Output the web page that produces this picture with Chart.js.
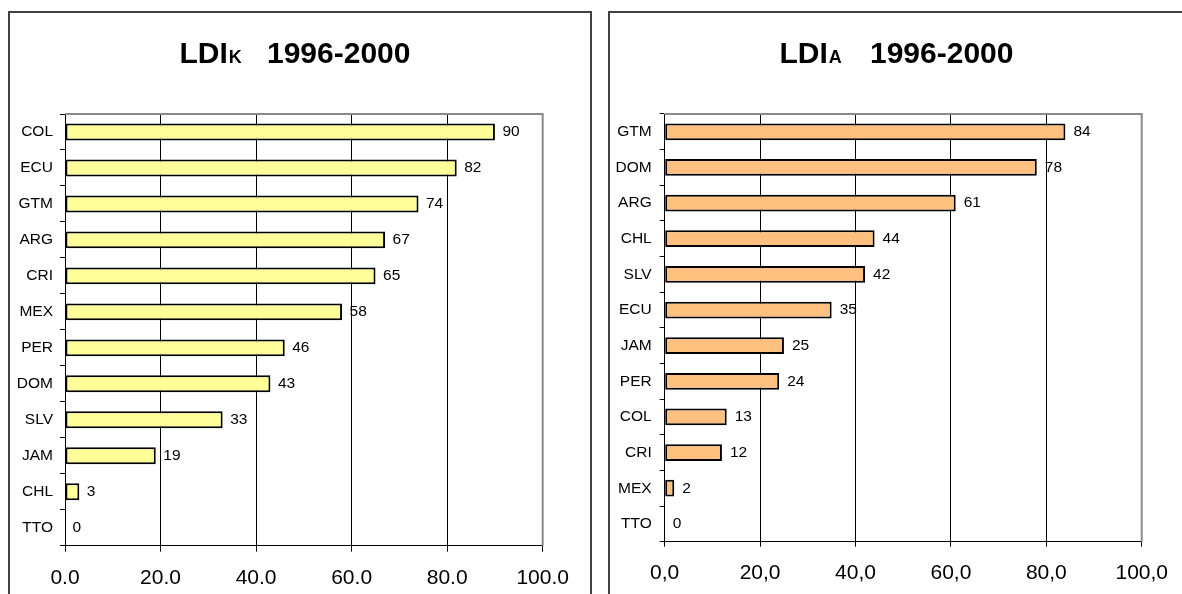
<!DOCTYPE html>
<html>
<head>
<meta charset="utf-8">
<script src="https://cdn.jsdelivr.net/npm/chart.js@4/dist/chart.umd.min.js"></script>
<style>
  html, body { margin: 0; padding: 0; background: #fff; width: 1182px; height: 594px; overflow: hidden; }
  .panel { position: absolute; box-sizing: border-box; border: 2px solid #404040; top: 11px; height: 620px; }
  canvas { position: absolute; top: 0; }
</style>
</head>
<body>
<div class="panel" style="left:8px; width:584px;"></div>
<div class="panel" style="left:608px; width:620px;"></div>
<canvas id="left" width="591" height="594" style="left:0px;"></canvas>
<canvas id="right" width="582" height="594" style="left:600px;"></canvas>
<script>
// ---- data ----
const leftCategories = ['COL','ECU','GTM','ARG','CRI','MEX','PER','DOM','SLV','JAM','CHL','TTO'];
const leftValues = [90, 82, 74, 67, 65, 58, 46, 43, 33, 19, 3, 0];
const rightCategories = ['GTM','DOM','ARG','CHL','SLV','ECU','JAM','PER','COL','CRI','MEX','TTO'];
const rightValues = [84, 78, 61, 44, 42, 35, 25, 24, 13, 12, 2, 0];
const xMin = 0, xMax = 100, xStep = 20;
const leftTitle = ['LDI', 'K', '1996-2000'];
const rightTitle = ['LDI', 'A', '1996-2000'];

const FONT = 'Arial, "Liberation Sans", sans-serif';

const titlePlugin = {
  id: 'mixedTitle',
  afterDraw(chart, args, opts) {
    const ctx = chart.ctx;
    ctx.save();
    ctx.fillStyle = '#000';
    ctx.textBaseline = 'alphabetic';
    ctx.textAlign = 'left';
    ctx.font = 'bold 30px ' + FONT;
    ctx.fillText(opts.parts[0], opts.x, opts.baseline);
    const w = ctx.measureText(opts.parts[0]).width;
    ctx.font = 'bold 18px ' + FONT;
    ctx.fillText(opts.parts[1], opts.x + w + 1, opts.baseline);
    ctx.font = 'bold 30px ' + FONT;
    ctx.fillText(opts.parts[2], opts.x + opts.yearOffset, opts.baseline);
    ctx.restore();
  }
};

const frameAndLabels = {
  id: 'frameAndLabels',
  afterDatasetsDraw(chart, args, opts) {
    const ctx = chart.ctx;
    const a = chart.chartArea;
    ctx.save();
    // top & right plot-area border (gray)
    ctx.strokeStyle = '#8a8a8a';
    ctx.lineWidth = 2;
    ctx.beginPath();
    ctx.moveTo(a.left, a.top);
    ctx.lineTo(a.right, a.top);
    ctx.lineTo(a.right, a.bottom);
    ctx.stroke();
    // value labels
    ctx.fillStyle = '#000';
    ctx.font = '15.5px ' + FONT;
    ctx.textBaseline = 'middle';
    ctx.textAlign = 'left';
    const meta = chart.getDatasetMeta(0);
    const data = chart.data.datasets[0].data;
    meta.data.forEach((bar, i) => {
      ctx.fillText(String(Math.round(data[i])), bar.x + opts.gap, bar.y);
    });
    ctx.restore();
  }
};

function makeChart(id, cats, vals, color, opt) {
  return new Chart(document.getElementById(id), {
    type: 'bar',
    data: {
      labels: cats,
      datasets: [{
        data: vals,
        backgroundColor: color,
        borderColor: '#000',
        borderWidth: 2,
        borderSkipped: false,
        categoryPercentage: 1,
        barPercentage: opt.barPct
      }]
    },
    plugins: [titlePlugin, frameAndLabels],
    options: {
      indexAxis: 'y',
      responsive: false,
      animation: false,
      devicePixelRatio: 1,
      layout: { padding: { left: opt.padLeft, top: 114, right: opt.padRight, bottom: 0 } },
      plugins: {
        legend: { display: false },
        tooltip: { enabled: false },
        mixedTitle: { parts: opt.title, x: opt.titleX, baseline: 63.3, yearOffset: opt.yearOffset },
        frameAndLabels: { gap: opt.labelGap }
      },
      scales: {
        x: {
          min: xMin, max: xMax,
          ticks: {
            stepSize: xStep,
            color: '#000',
            font: { family: FONT, size: 21 },
            padding: opt.xPad,
            maxRotation: 0,
            callback: (v) => opt.fmt(v)
          },
          grid: {
            color: (c) => (c.tick && c.tick.value === xMax) ? 'rgba(0,0,0,0)' : '#000',
            tickColor: '#000',
            lineWidth: 1,
            tickLength: opt.xTickLen
          },
          border: { display: true, color: '#000', width: 1 },
          afterFit: (s) => { s.height = opt.xHeight; }
        },
        y: {
          offset: true,
          ticks: {
            color: '#000',
            font: { family: FONT, size: 15.5 },
            padding: opt.yPad,
            autoSkip: false
          },
          grid: {
            offset: true,
            drawOnChartArea: false,
            drawTicks: true,
            tickLength: 5,
            color: '#000',
            tickColor: '#000'
          },
          border: { display: true, color: '#000', width: 1 },
          afterFit: (s) => { s.width = opt.yWidth; }
        }
      }
    }
  });
}

makeChart('left', leftCategories, leftValues, '#FFFF99', {
  barPct: 0.47, padLeft: 8, padRight: 48.3, yWidth: 57, xHeight: 48.3,
  xPad: 14, xTickLen: 6, yPad: 7, labelGap: 7.5,
  fmt: (v) => v.toFixed(1),
  title: leftTitle, titleX: 179.5, yearOffset: 87.5
});

makeChart('right', rightCategories, rightValues, '#FFC080', {
  barPct: 0.47, padLeft: 8, padRight: 39.3, yWidth: 56.7, xHeight: 52.3,
  xPad: 14, xTickLen: 5, yPad: 8, labelGap: 8,
  fmt: (v) => v.toFixed(1).replace('.', ','),
  title: rightTitle, titleX: 179.5, yearOffset: 90.5
});
</script>
</body>
</html>
